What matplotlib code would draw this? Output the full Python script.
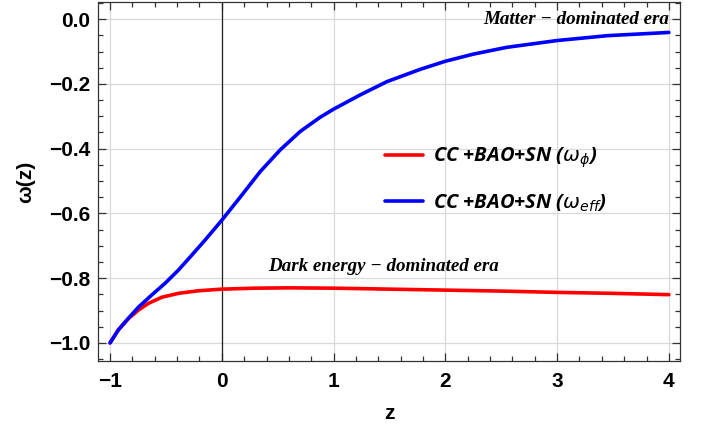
import matplotlib
matplotlib.use('Agg')
import matplotlib.pyplot as plt
from matplotlib.ticker import MultipleLocator, FuncFormatter

# Values
z_eff = [-1.0, -0.926, -0.836, -0.747, -0.627, -0.508, -0.388, -0.269, -0.149, 0.0,
         0.164, 0.343, 0.522, 0.701, 0.880, 1.0, 1.238, 1.477, 1.775, 2.0,
         2.25, 2.55, 3.0, 3.45, 4.0]
w_eff = [-1.0, -0.960, -0.924, -0.890, -0.852, -0.816, -0.775, -0.729, -0.682, -0.621,
         -0.550, -0.471, -0.404, -0.347, -0.303, -0.278, -0.234, -0.193, -0.155, -0.130,
         -0.108, -0.087, -0.066, -0.051, -0.041]

z_phi = [-1.0, -0.926, -0.836, -0.747, -0.657, -0.537, -0.388, -0.209, 0.0, 0.3, 0.6,
         1.0, 1.5, 2.0, 2.5, 3.0, 3.5, 4.0]
w_phi = [-1.0, -0.960, -0.925, -0.899, -0.878, -0.859, -0.847, -0.839, -0.834, -0.831, -0.830,
         -0.831, -0.834, -0.837, -0.840, -0.844, -0.847, -0.851]

labels = [r'CC +BAO+SN ($\omega_{\phi}$)', r'CC +BAO+SN ($\omega_{eff}$)']

plt.rcParams['font.family'] = 'Liberation Sans'
plt.rcParams['mathtext.fontset'] = 'dejavusans'

fig = plt.figure(figsize=(7.1, 4.37), dpi=100)
ax = fig.add_axes([0.1385, 0.1739, 0.8193, 0.8215])

ax.plot(z_phi, w_phi, color='#ff0000', lw=2.6, label=labels[0],
        solid_joinstyle='round', solid_capstyle='round')
ax.plot(z_eff, w_eff, color='#0000ff', lw=2.6, label=labels[1],
        solid_joinstyle='round', solid_capstyle='round')

# vertical axis line at z = 0
ax.axvline(0, color='#222222', lw=0.9, zorder=1)

ax.set_xlim(-1.105, 4.1)
ax.set_ylim(-1.056, 0.053)

ax.xaxis.set_major_locator(MultipleLocator(1))
ax.xaxis.set_minor_locator(MultipleLocator(0.2))
ax.yaxis.set_major_locator(MultipleLocator(0.2))
ax.yaxis.set_minor_locator(MultipleLocator(0.05))
ax.xaxis.set_major_formatter(FuncFormatter(lambda v, p: f'{v:.0f}'.replace('-', '\u2212')))
ax.yaxis.set_major_formatter(FuncFormatter(lambda v, p: f'{v:.1f}'.replace('-', '\u2212')))

ax.tick_params(which='both', direction='in', top=True, right=True, width=0.9, colors='#333333')
ax.tick_params(which='major', length=6, labelsize=15, labelcolor='black')
ax.tick_params(axis='x', which='major', pad=8)
ax.tick_params(axis='y', which='major', pad=6)
ax.tick_params(which='minor', length=3.5)
for lab in ax.get_xticklabels() + ax.get_yticklabels():
    lab.set_fontweight('bold')

ax.grid(True, which='major', color='#d9d9d9', lw=0.9)
ax.set_axisbelow(True)
for sp in ax.spines.values():
    sp.set_color('#333333')
    sp.set_linewidth(0.9)

ax.set_xlabel('z', fontsize=15, fontweight='bold', labelpad=9)
ax.set_ylabel(r'ω(z)', fontsize=15, fontweight='bold', labelpad=10)

ax.text(4.0, -0.002, 'Matter \u2212 dominated era', family='Liberation Serif',
        style='italic', weight='bold', fontsize=13.7, ha='right', va='center')
ax.text(1.444, -0.763, 'Dark energy \u2212 dominated era', family='Liberation Serif',
        style='italic', weight='bold', fontsize=13.7, ha='center', va='center')

leg = ax.legend(loc='center left', bbox_to_anchor=(0.493, 0.505), frameon=False,
                prop={'family': 'Open Sans', 'style': 'italic', 'weight': 'bold', 'size': 14.5},
                handlelength=1.9, handletextpad=0.5, labelspacing=1.1,
                borderpad=0, borderaxespad=0)

fig.savefig('out.png', dpi=100)
